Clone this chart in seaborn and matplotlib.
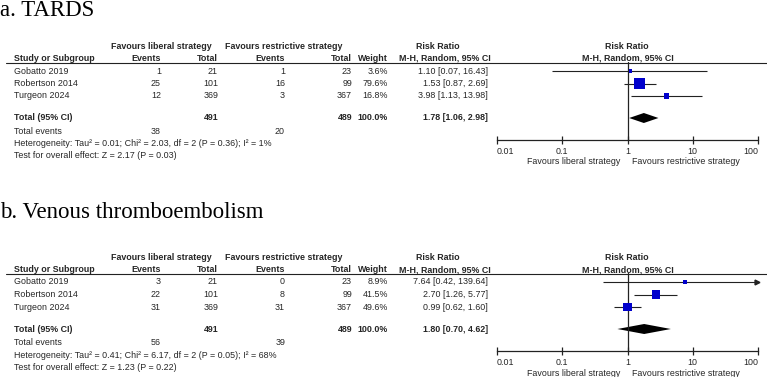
import matplotlib
matplotlib.use("Agg")
import matplotlib.pyplot as plt
from matplotlib.lines import Line2D
import numpy as np
import pandas as pd
import seaborn as sns

# Studies (same in both panels)
studies = ["Gobatto 2019", "Robertson 2014", "Turgeon 2024"]

# Panel a: TARDS
a_lib_events = [1, 25, 12]
a_lib_total = [21, 101, 369]
a_res_events = [1, 16, 3]
a_res_total = [23, 99, 367]
a_weight = [3.6, 79.6, 16.8]
a_rr = [1.10, 1.53, 3.98]
a_lo = [0.07, 0.87, 1.13]
a_hi = [16.43, 2.69, 13.98]
a_pooled = [1.78, 1.06, 2.98]
a_tot = [491, 489]
a_events = [38, 20]
a_het = "Heterogeneity: Tau² = 0.01; Chi² = 2.03, df = 2 (P = 0.36); I² = 1%"
a_test = "Test for overall effect: Z = 2.17 (P = 0.03)"

# Panel b: Venous thromboembolism
b_lib_events = [3, 22, 31]
b_lib_total = [21, 101, 369]
b_res_events = [0, 8, 31]
b_res_total = [23, 99, 367]
b_weight = [8.9, 41.5, 49.6]
b_rr = [7.64, 2.70, 0.99]
b_lo = [0.42, 1.26, 0.62]
b_hi = [139.64, 5.77, 1.60]
b_pooled = [1.80, 0.70, 4.62]
b_tot = [491, 489]
b_events = [56, 39]
b_het = "Heterogeneity: Tau² = 0.41; Chi² = 6.17, df = 2 (P = 0.05); I² = 68%"
b_test = "Test for overall effect: Z = 1.23 (P = 0.22)"

tick_vals = [0.01, 0.1, 1, 10, 100]
tick_labels = ["0.01", "0.1", "1", "10", "100"]

sns.set_theme(style="white")
plt.rcParams["font.family"] = ["Liberation Sans", "DejaVu Sans"]

W, H = 767, 377
fig = plt.figure(figsize=(W / 100, H / 100), dpi=100)

txt_col = "#262626"
line_col = "#222222"
fs = 6.4


def fx(px):
    return px / W


def fy(py):
    return 1 - py / H


def put(x, y, s, ha="right", bold=False, **kw):
    fig.text(fx(x), fy(y), s, ha=ha, va="center", fontsize=fs, color=txt_col,
             fontweight="bold" if bold else "normal", **kw)


def panel(off, title, title_y, lib_e, lib_t, res_e, res_t, weight, rr, lo, hi,
          pooled, tot, events, het, test):
    fig.text(0.0, fy(title_y), title, ha="left", va="baseline", fontsize=16.5,
             family="Liberation Serif", color="black")

    # header
    put(161, off + 46.5, "Favours liberal strategy", ha="center", bold=True)
    put(284, off + 46.5, "Favours restrictive strategy", ha="center", bold=True)
    put(438, off + 46.5, "Risk Ratio", ha="center", bold=True)
    put(627, off + 46.5, "Risk Ratio", ha="center", bold=True)
    put(14, off + 58.5, "Study or Subgroup", ha="left", bold=True)
    for x, s in [(161, "Events"), (218, "Total"), (285, "Events"),
                 (352, "Total"), (388, "Weight"), (491, "M-H, Random, 95% CI")]:
        put(x, off + 58.5, s, bold=True)
    put(628, off + 58.5, "M-H, Random, 95% CI", ha="center", bold=True)
    fig.add_artist(Line2D([fx(6), fx(767)], [fy(off + 62.5)] * 2,
                          color=line_col, lw=0.8))

    # study rows
    for i, name in enumerate(studies):
        y = off + 71 + 12.5 * i
        put(14, y, name, ha="left")
        put(161, y, str(lib_e[i]))
        put(218, y, str(lib_t[i]))
        put(285, y, str(res_e[i]))
        put(352, y, str(res_t[i]))
        put(388, y, f"{weight[i]:.1f}%")
        put(488, y, f"{rr[i]:.2f} [{lo[i]:.2f}, {hi[i]:.2f}]")

    y = off + 118
    put(14, y, "Total (95% CI)", ha="left", bold=True)
    put(218, y, str(tot[0]), bold=True)
    put(352, y, str(tot[1]), bold=True)
    put(388, y, "100.0%", bold=True)
    put(488, y, f"{pooled[0]:.2f} [{pooled[1]:.2f}, {pooled[2]:.2f}]", bold=True)
    y = off + 131.5
    put(14, y, "Total events", ha="left")
    put(161, y, str(events[0]))
    put(285, y, str(events[1]))
    put(14, off + 144, het, ha="left")
    put(14, off + 156, test, ha="left")

    # forest axes
    ax = fig.add_axes([fx(497), fy(off + 140), fx(758) - fx(497), 78 / H])
    ax.set_xscale("log")
    ax.set_xlim(0.01, 100)
    ax.set_ylim(5.52, -0.72)
    ax.axvline(1, color=line_col, lw=0.9)

    rows = np.arange(len(studies))
    hi_clip = np.minimum(hi, 100)
    ax.hlines(rows, lo, hi_clip, color=line_col, lw=0.8)
    for r, h in zip(rows, hi):
        if h > 100:
            ax.plot([95], [r], marker=">", color=line_col, ms=3.5, clip_on=False)

    df = pd.DataFrame({"rr": rr, "row": rows, "weight": weight})
    sns.scatterplot(data=df, x="rr", y="row", size="weight", sizes=(2, 80),
                    size_norm=(0, 100), marker="s", color="#0000CC",
                    linewidth=0, legend=False, ax=ax, zorder=3)

    tr = 3.76
    est, plo, phi = pooled
    ax.fill([plo, est, phi, est], [tr, tr - 0.4, tr, tr + 0.4], color="black",
            lw=0)

    ax.set_xticks(tick_vals)
    ax.set_xticklabels(tick_labels)
    labs = ax.get_xticklabels()
    labs[0].set_horizontalalignment("left")
    labs[-1].set_horizontalalignment("right")
    ax.minorticks_off()
    ax.set_yticks([])
    ax.set_xlabel("")
    ax.set_ylabel("")
    for s in ["top", "left", "right"]:
        ax.spines[s].set_visible(False)
    ax.spines["bottom"].set_color(line_col)
    ax.spines["bottom"].set_linewidth(0.9)
    ax.tick_params(axis="x", direction="inout", length=6, width=0.9,
                   color=line_col, labelsize=fs, labelcolor=txt_col, pad=2,
                   bottom=True)
    ax.patch.set_alpha(0)

    put(620, off + 162, "Favours liberal strategy", ha="right")
    put(632, off + 162, "Favours restrictive strategy", ha="left")


panel(0, "a. TARDS", 16, a_lib_events, a_lib_total, a_res_events, a_res_total,
      a_weight, a_rr, a_lo, a_hi, a_pooled, a_tot, a_events, a_het, a_test)
panel(211, "b. Venous thromboembolism", 218, b_lib_events, b_lib_total,
      b_res_events, b_res_total, b_weight, b_rr, b_lo, b_hi, b_pooled, b_tot,
      b_events, b_het, b_test)

fig.savefig("out.png", dpi=100, facecolor="white")
